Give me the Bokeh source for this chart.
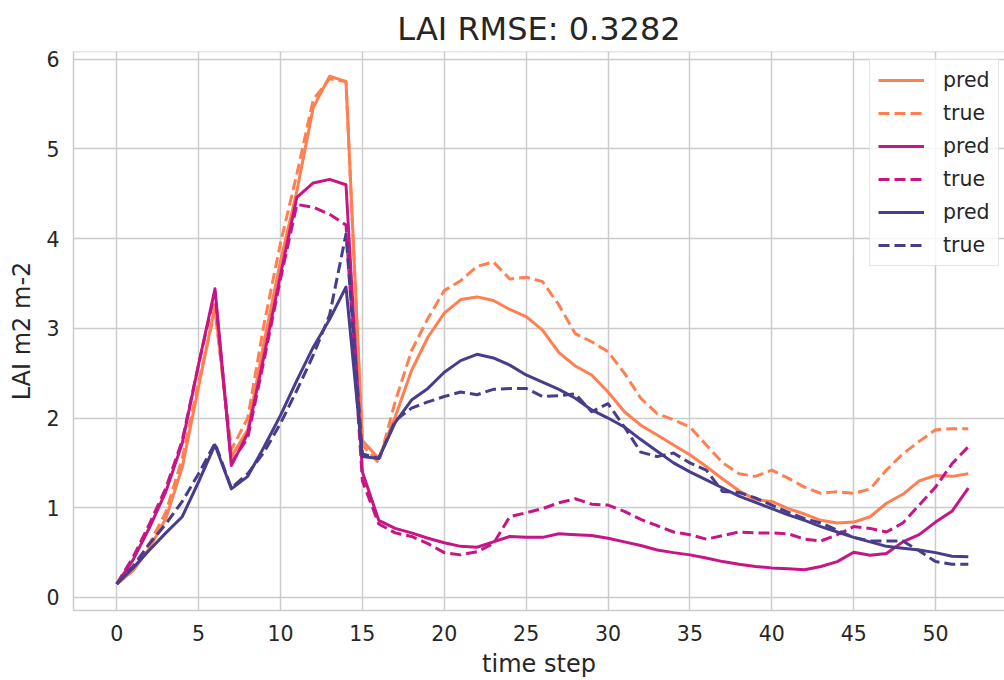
from bokeh.plotting import figure
from bokeh.models import Legend, LegendItem, Range1d, Span, FixedTicker
from bokeh.embed import file_html
from bokeh.resources import INLINE

steps = list(range(53))

orange_pred = [0.15, 0.30, 0.55, 0.88, 1.45, 2.35, 3.25, 1.57, 1.87, 2.85,
               3.75, 4.53, 5.46, 5.81, 5.75, 1.75, 1.55, 2.01, 2.53, 2.90,
               3.17, 3.32, 3.35, 3.31, 3.21, 3.13, 2.98, 2.73, 2.58, 2.48,
               2.29, 2.07, 1.92, 1.81, 1.70, 1.59, 1.46, 1.32, 1.19, 1.09,
               1.07, 0.99, 0.93, 0.86, 0.83, 0.84, 0.90, 1.05, 1.15, 1.30,
               1.36, 1.35, 1.38]
orange_true = [0.15, 0.30, 0.60, 0.95, 1.55, 2.40, 3.20, 1.65, 2.00, 3.05,
               3.95, 4.72, 5.55, 5.78, 5.75, 1.70, 1.50, 2.18, 2.75, 3.11,
               3.42, 3.53, 3.69, 3.74, 3.55, 3.57, 3.52, 3.26, 2.94, 2.85,
               2.74, 2.50, 2.22, 2.05, 1.98, 1.90, 1.70, 1.50, 1.38, 1.35,
               1.42, 1.33, 1.23, 1.16, 1.18, 1.16, 1.21, 1.42, 1.60, 1.74,
               1.87, 1.88, 1.88]
magenta_pred = [0.15, 0.42, 0.78, 1.18, 1.72, 2.60, 3.44, 1.47, 1.83, 2.70,
                3.60, 4.46, 4.62, 4.66, 4.60, 1.40, 0.86, 0.77, 0.72, 0.66,
                0.61, 0.57, 0.56, 0.62, 0.68, 0.67, 0.67, 0.71, 0.70, 0.69,
                0.66, 0.62, 0.58, 0.53, 0.50, 0.475, 0.44, 0.40, 0.37, 0.345,
                0.33, 0.32, 0.31, 0.345, 0.40, 0.505, 0.47, 0.49, 0.62, 0.70,
                0.84, 0.96, 1.22]
magenta_true = [0.15, 0.45, 0.82, 1.22, 1.75, 2.60, 3.40, 1.50, 1.78, 2.65,
                3.55, 4.38, 4.35, 4.27, 4.15, 1.30, 0.82, 0.72, 0.68, 0.60,
                0.50, 0.475, 0.51, 0.60, 0.90, 0.945, 0.99, 1.055, 1.10, 1.04,
                1.03, 0.96, 0.87, 0.80, 0.73, 0.70, 0.65, 0.69, 0.73, 0.72,
                0.72, 0.71, 0.65, 0.63, 0.70, 0.79, 0.77, 0.73, 0.83, 1.03,
                1.23, 1.49, 1.68]
purple_pred = [0.15, 0.33, 0.53, 0.72, 0.90, 1.29, 1.70, 1.21, 1.35, 1.68,
               2.03, 2.42, 2.79, 3.10, 3.46, 1.57, 1.55, 1.95, 2.20, 2.33,
               2.51, 2.64, 2.71, 2.67, 2.59, 2.48, 2.40, 2.32, 2.22, 2.09,
               2.00, 1.90, 1.76, 1.63, 1.50, 1.40, 1.31, 1.22, 1.13, 1.06,
               0.99, 0.92, 0.86, 0.79, 0.73, 0.67, 0.62, 0.57, 0.55, 0.53,
               0.50, 0.46, 0.455]
purple_true = [0.15, 0.35, 0.60, 0.82, 1.07, 1.38, 1.72, 1.22, 1.38, 1.62,
               1.94, 2.31, 2.70, 3.15, 4.05, 1.60, 1.55, 1.97, 2.11, 2.18,
               2.24, 2.29, 2.26, 2.32, 2.33, 2.33, 2.24, 2.25, 2.27, 2.07,
               2.16, 1.90, 1.62, 1.57, 1.61, 1.50, 1.42, 1.18, 1.17, 1.11,
               1.03, 0.95, 0.88, 0.83, 0.75, 0.67, 0.63, 0.63, 0.63, 0.52,
               0.40, 0.37, 0.37]

x_ticks = [0, 5, 10, 15, 20, 25, 30, 35, 40, 45, 50]
y_ticks = [0, 1, 2, 3, 4, 5, 6]

FONT = "DejaVu Sans"
TXT = "#262626"
GRID = "#cccccc"
LW = 3
DASH = "11 5"

p = figure(width=1004, height=680, output_backend="svg", toolbar_location=None,
           x_range=Range1d(-2.64, 54.21), y_range=Range1d(-0.145, 6.085),
           min_border_left=73, min_border_right=0, min_border_top=51,
           min_border_bottom=69, title="LAI RMSE: 0.3282")

p.title.text_font = FONT
p.title.text_font_size = "32px"
p.title.text_font_style = "normal"
p.title.text_color = TXT
p.title.align = "center"
p.title.standoff = 8

p.outline_line_color = None
p.background_fill_color = "white"
p.border_fill_color = "white"

for ax in (p.xaxis[0], p.yaxis[0]):
    ax.axis_line_color = GRID
    ax.axis_line_width = 1.5
    ax.major_tick_line_color = None
    ax.minor_tick_line_color = None
    ax.major_tick_out = 0
    ax.major_tick_in = 0
    ax.major_label_text_font = FONT
    ax.major_label_text_font_size = "20.5px"
    ax.major_label_text_color = TXT
    ax.axis_label_text_font = FONT
    ax.axis_label_text_font_size = "24px"
    ax.axis_label_text_font_style = "normal"
    ax.axis_label_text_color = TXT

p.xaxis.ticker = FixedTicker(ticks=x_ticks)
p.yaxis.ticker = FixedTicker(ticks=y_ticks)
p.xaxis.major_label_standoff = 14
p.yaxis.major_label_standoff = 14
p.xaxis.axis_label = "time step"
p.yaxis.axis_label = "LAI m2 m-2"
p.xaxis.axis_label_standoff = 6
p.yaxis.axis_label_standoff = 7

p.xgrid.grid_line_color = GRID
p.ygrid.grid_line_color = GRID
p.xgrid.grid_line_width = 1.5
p.ygrid.grid_line_width = 1.5

top_span = Span(location=6.085, dimension="width", line_color=GRID, line_width=1.5)
p.add_layout(top_span)

series = [
    ("pred", orange_pred, "coral", "solid"),
    ("true", orange_true, "coral", DASH),
    ("pred", magenta_pred, "mediumvioletred", "solid"),
    ("true", magenta_true, "mediumvioletred", DASH),
    ("pred", purple_pred, "darkslateblue", "solid"),
    ("true", purple_true, "darkslateblue", DASH),
]

items = []
for label, ys, color, dash in series:
    r = p.line(steps, ys, line_color=color, line_width=LW, line_dash=dash,
               line_join="round")
    items.append(LegendItem(label=label, renderers=[r]))

legend = Legend(items=items, location=(796, 344))
legend.margin = 0
legend.padding = 8
legend.glyph_width = 46
legend.glyph_height = 24
legend.label_height = 24
legend.label_standoff = 19
legend.spacing = 9
legend.label_text_font = FONT
legend.label_text_font_size = "20.5px"
legend.label_text_color = TXT
legend.border_line_color = GRID
legend.border_line_width = 1.2
legend.background_fill_alpha = 0.8
p.add_layout(legend)

open("out.html", "w").write(file_html(p, INLINE))
